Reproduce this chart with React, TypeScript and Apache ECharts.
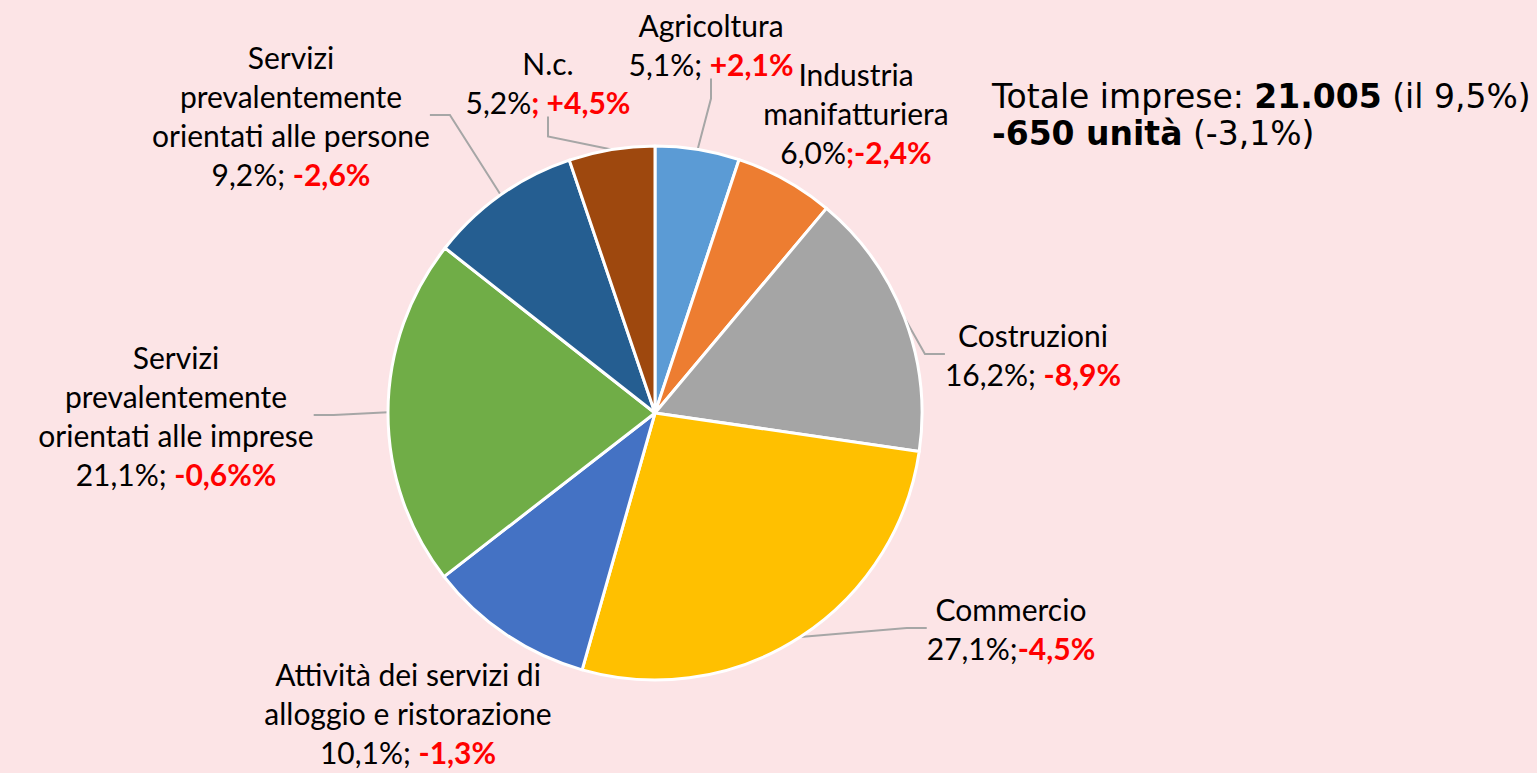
import React, { useEffect, useRef } from "react";
import * as echarts from "echarts";

const categories = [
  "Agricoltura",
  "Industria manifatturiera",
  "Costruzioni",
  "Commercio",
  "Attività dei servizi di alloggio e ristorazione",
  "Servizi prevalentemente orientati alle imprese",
  "Servizi prevalentemente orientati alle persone",
  "N.c.",
];
const labelNames = [
  "Agricoltura",
  "Industria\nmanifatturiera",
  "Costruzioni",
  "Commercio",
  "Attività dei servizi di\nalloggio e ristorazione",
  "Servizi\nprevalentemente\norientati alle imprese",
  "Servizi\nprevalentemente\norientati alle persone",
  "N.c.",
];
const shares = [5.1, 6.0, 16.2, 27.1, 10.1, 21.1, 9.2, 5.2];
const shareTexts = ["5,1%; ", "6,0%", "16,2%; ", "27,1%;", "10,1%; ", "21,1%; ", "9,2%; ", "5,2%"];
const changeTexts = ["+2,1%", ";-2,4%", "-8,9%", "-4,5%", "-1,3%", "-0,6%%", "-2,6%", "; +4,5%"];
const sliceColors = ["#5B9BD5", "#ED7D31", "#A5A5A5", "#FFC000", "#4472C4", "#70AD47", "#255E91", "#9E480E"];

const titleLine1 = ["Totale imprese: ", "21.005", " (il 9,5%)"];
const titleLine2 = ["-650 unità", " (-3,1%)"];

// label centres (layout only)
const labelPos: [number, number][] = [
  [711, 44],
  [856, 113],
  [1033, 354],
  [1011, 628],
  [408, 713],
  [176, 415],
  [291, 115],
  [548, 82],
];
const noLine = [false, true, false, false, true, false, false, false];

export default function App() {
  const ref = useRef<HTMLDivElement>(null);
  useEffect(() => {
    document.body.style.margin = "0";
    const chart = echarts.init(ref.current!, null, { renderer: "svg" });
    const font = "Lato, 'Liberation Sans', sans-serif";
    chart.setOption({
      animation: false,
      backgroundColor: "#FCE4E6",
      title: {
        left: 987,
        top: 73,
        text:
          `{a|${titleLine1[0]}}{b|${titleLine1[1]}}{a|${titleLine1[2]}}\n` +
          `{b|${titleLine2[0]}}{a|${titleLine2[1]}}`,
        textStyle: {
          fontWeight: "normal",
          rich: {
            a: { fontFamily: "'DejaVu Sans'", fontSize: 33, fontWeight: "normal", color: "#000", lineHeight: 37 },
            b: { fontFamily: "'DejaVu Sans'", fontSize: 33, fontWeight: "bold", color: "#000", lineHeight: 37 },
          },
        },
      },
      series: [
        {
          type: "pie",
          center: [655, 413],
          radius: 267,
          startAngle: 90,
          clockwise: true,
          avoidLabelOverlap: false,
          itemStyle: { borderColor: "#FFFFFF", borderWidth: 3 },
          label: {
            show: true,
            position: "outside",
            formatter: (p: any) =>
              `{n|${labelNames[p.dataIndex]}}\n{s|${shareTexts[p.dataIndex]}}{r|${changeTexts[p.dataIndex]}}`,
            rich: {
              n: { fontFamily: font, fontSize: 30, color: "#000", lineHeight: 39, align: "center" },
              s: { fontFamily: font, fontSize: 30, color: "#000", lineHeight: 39 },
              r: { fontFamily: font, fontSize: 30, color: "#FF0000", fontWeight: "bold", lineHeight: 39 },
            },
            align: "center",
          },
          labelLine: {
            show: true,
            length: 20,
            length2: 20,
            lineStyle: { color: "#A6A6A6", width: 2 },
          },
          labelLayout: (params: any) => {
            const [x, y] = labelPos[params.dataIndex];
            return { x, y, align: "center", verticalAlign: "middle" };
          },
          data: categories.map((name, i) => ({
            name,
            value: shares[i],
            itemStyle: { color: sliceColors[i] },
            labelLine: { show: !noLine[i] },
          })),
        },
      ],
    });
    return () => chart.dispose();
  }, []);
  return <div ref={ref} style={{ position: "fixed", left: 0, top: 0, width: 1537, height: 773 }} />;
}
